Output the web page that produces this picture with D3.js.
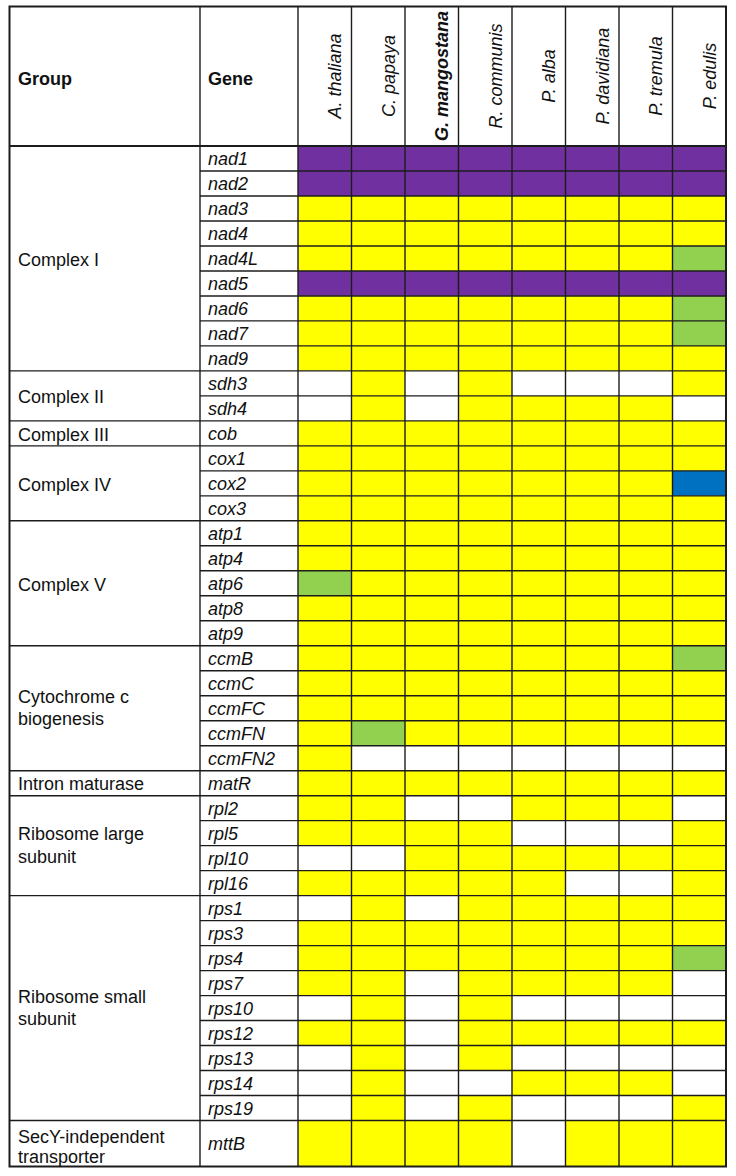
<!DOCTYPE html>
<html>
<head>
<meta charset="utf-8">
<script src="https://cdn.jsdelivr.net/npm/d3@7/dist/d3.min.js"></script>
<style>
  html, body { margin: 0; padding: 0; background: #fff; }
  svg { display: block; }
  text { font-family: "Liberation Sans", Arial, sans-serif; fill: #111; }
</style>
</head>
<body>
<script>
// ---------- data ----------
const species = ["A. thaliana", "C. papaya", "G. mangostana", "R. communis", "P. alba", "P. davidiana", "P. tremula", "P. edulis"];
const groupNames = ["Complex I", "Complex II", "Complex III", "Complex IV", "Complex V", "Cytochrome c biogenesis", "Intron maturase", "Ribosome large subunit", "Ribosome small subunit", "SecY-independent transporter"];
const groupLabelLines = [["Complex I"], ["Complex II"], ["Complex III"], ["Complex IV"], ["Complex V"], ["Cytochrome c", "biogenesis"], ["Intron maturase"], ["Ribosome large", "subunit"], ["Ribosome small", "subunit"], ["SecY-independent", "transporter"]];
const groupGenes = [
  ["nad1", "nad2", "nad3", "nad4", "nad4L", "nad5", "nad6", "nad7", "nad9"],
  ["sdh3", "sdh4"],
  ["cob"],
  ["cox1", "cox2", "cox3"],
  ["atp1", "atp4", "atp6", "atp8", "atp9"],
  ["ccmB", "ccmC", "ccmFC", "ccmFN", "ccmFN2"],
  ["matR"],
  ["rpl2", "rpl5", "rpl10", "rpl16"],
  ["rps1", "rps3", "rps4", "rps7", "rps10", "rps12", "rps13", "rps14", "rps19"],
  ["mttB"]
];
// one code per species: P purple, Y yellow, G green, B blue, 0 absent
const geneStates = {
  nad1: "PPPPPPPP", nad2: "PPPPPPPP", nad3: "YYYYYYYY", nad4: "YYYYYYYY", nad4L: "YYYYYYYG",
  nad5: "PPPPPPPP", nad6: "YYYYYYYG", nad7: "YYYYYYYG", nad9: "YYYYYYYY",
  sdh3: "0Y0Y000Y", sdh4: "0Y0YYYY0",
  cob: "YYYYYYYY",
  cox1: "YYYYYYYY", cox2: "YYYYYYYB", cox3: "YYYYYYYY",
  atp1: "YYYYYYYY", atp4: "YYYYYYYY", atp6: "GYYYYYYY", atp8: "YYYYYYYY", atp9: "YYYYYYYY",
  ccmB: "YYYYYYYG", ccmC: "YYYYYYYY", ccmFC: "YYYYYYYY", ccmFN: "YGYYYYYY", ccmFN2: "Y0000000",
  matR: "YYYYYYYY",
  rpl2: "YY00YYY0", rpl5: "YYYY000Y", rpl10: "00YYYYYY", rpl16: "YYYYY00Y",
  rps1: "0Y0YYYYY", rps3: "YYYYYYYY", rps4: "YYYYYYYG", rps7: "YY0YYYY0", rps10: "0Y0Y0000",
  rps12: "YY0YYYYY", rps13: "0Y0Y0000", rps14: "0Y00YYY0", rps19: "0Y0Y000Y",
  mttB: "YYYY0YYY"
};
const stateCodes = ["P", "Y", "G", "B", "0"];
const stateColors = ["#7030A0", "#FFFF00", "#92D050", "#0070C0", "#FFFFFF"];

// ---------- layout ----------
const W = 736, H = 1176;
const xLeft = 9.5, xGroupRight = 200, xGeneRight = 298, xRight = 726;
const yTop = 6.5, yHeader = 146, yBottom = 1166.5;
const lineColor = "#1c1c1c";

const svg = d3.select("body").append("svg").attr("width", W).attr("height", H);

const rows = [];
groupGenes.forEach((genes, gi) => {
  genes.forEach(g => rows.push({ gene: g, group: gi, units: gi === groupGenes.length - 1 ? 1.84 : 1 }));
});
let acc = 0;
rows.forEach(r => { r.u0 = acc; acc += r.units; r.u1 = acc; });
const y = d3.scaleLinear().domain([0, acc]).range([yHeader, yBottom]);
const x = d3.scaleBand().domain(species).range([xGeneRight, xRight]).padding(0);
const color = d3.scaleOrdinal().domain(stateCodes).range(stateColors);

// cells
const cells = [];
rows.forEach(r => {
  species.forEach((s, si) => cells.push({ gene: r.gene, sp: s, state: geneStates[r.gene][si], r }));
});
svg.append("g").selectAll("rect").data(cells).join("rect")
  .attr("x", d => x(d.sp))
  .attr("y", d => y(d.r.u0))
  .attr("width", x.bandwidth())
  .attr("height", d => y(d.r.u1) - y(d.r.u0))
  .attr("fill", d => color(d.state));

// grid lines
const grid = svg.append("g").attr("stroke", lineColor).attr("stroke-width", 1.4).attr("fill", "none");
rows.forEach((r, i) => {
  if (i === 0) return;
  grid.append("line").attr("x1", xGroupRight).attr("x2", xRight).attr("y1", y(r.u0)).attr("y2", y(r.u0));
});
const groupStarts = [];
rows.forEach((r, i) => { if (i === 0 || rows[i - 1].group !== r.group) groupStarts.push(r); });
groupStarts.forEach((r, i) => {
  if (i === 0) return;
  grid.append("line").attr("x1", xLeft).attr("x2", xGroupRight).attr("y1", y(r.u0)).attr("y2", y(r.u0));
});
grid.append("line").attr("x1", xLeft).attr("x2", xRight).attr("y1", yHeader).attr("y2", yHeader).attr("stroke-width", 1.8);
[xGroupRight, xGeneRight].concat(species.slice(1).map(s => x(s))).forEach(v => {
  grid.append("line").attr("x1", v).attr("x2", v).attr("y1", yTop).attr("y2", yBottom);
});
svg.append("rect").attr("x", xLeft).attr("y", yTop).attr("width", xRight - xLeft).attr("height", yBottom - yTop)
  .attr("fill", "none").attr("stroke", lineColor).attr("stroke-width", 2);

// header labels
const fs = 18;
svg.append("text").attr("x", 18).attr("y", 85).attr("font-size", fs).attr("font-weight", "bold").text("Group");
svg.append("text").attr("x", 208).attr("y", 85).attr("font-size", fs).attr("font-weight", "bold").text("Gene");
svg.append("g").selectAll("text").data(species).join("text")
  .attr("transform", d => `translate(${x(d) + 43},76) rotate(-90)`)
  .attr("text-anchor", "middle")
  .attr("font-size", fs)
  .attr("font-style", "italic")
  .attr("font-weight", d => d === "G. mangostana" ? "bold" : "normal")
  .text(d => d);

// gene labels
svg.append("g").selectAll("text").data(rows).join("text")
  .attr("x", 208)
  .attr("y", d => (y(d.u0) + y(d.u1)) / 2 + 6.8)
  .attr("font-size", fs)
  .attr("font-style", "italic")
  .text(d => d.gene);

// group labels
groupStarts.forEach(r => {
  const groupRows = rows.filter(q => q.group === r.group);
  const y0 = y(groupRows[0].u0), y1 = y(groupRows[groupRows.length - 1].u1);
  const c = (y0 + y1) / 2;
  const lines = groupLabelLines[r.group];
  let bases;
  if (lines.length === 1) bases = [c + 7.3];
  else if (r.group === groupGenes.length - 1) bases = [y1 - 23.5, y1 - 4];
  else bases = [c - 5.5, c + 17];
  lines.forEach((ln, li) => {
    svg.append("text").attr("x", 18).attr("y", bases[li]).attr("font-size", fs).text(ln);
  });
});
</script>
</body>
</html>
